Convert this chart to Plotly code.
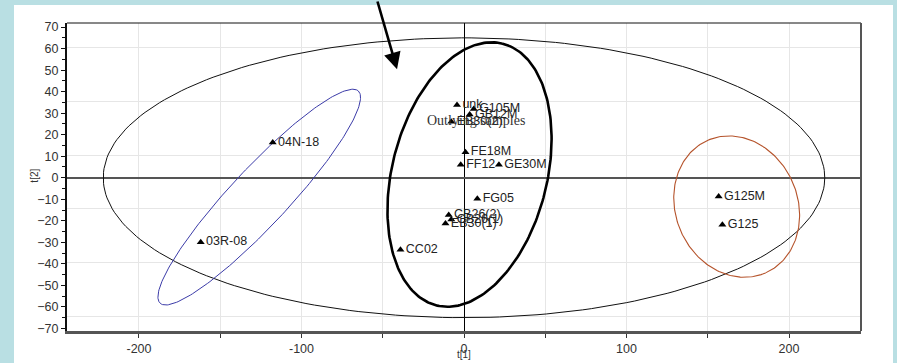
import numpy as np
import plotly.graph_objects as go

# PCA score values t[1], t[2] per sample
sample_names = ["04N-18", "03R-08", "unk", "G105M", "GB12M", "EB30(2)", "FE18M", "FF12",
                "GE30M", "FG05", "CB26(2)", "CB26(1)", "EB30(1)", "CC02", "G125M", "G125"]
t1_scores = [-117.7, -162.0, -4.3, 6.0, 3.5, -7.8, 0.9, -2.0,
             21.5, 8.2, -9.4, -7.8, -11.4, -39.1, 156.7, 159.0]
t2_scores = [16.4, -30.0, 33.8, 32.0, 29.4, 26.0, 11.9, 6.0,
             6.0, -9.8, -17.3, -19.4, -21.2, -33.4, -8.7, -21.8]

x_tick_vals = [-200, -150, -100, -50, 0, 50, 100, 150, 200]
x_tick_text = ["-200", "", "-100", "", "0", "", "100", "", "200"]

# Ellipses: centre, first half-axis vector, second half-axis vector (data units)
hotelling = dict(c=(0.0, 0.0), u=(222.0, 0.0), v=(0.0, 65.0), color="#111111", width=1)
group_left = dict(c=(-126.0, -9.0), u=(61.0, 49.3), v=(12.9, -9.1), color="#3b3ba8", width=1)
group_mid = dict(c=(3.4, 1.5), u=(20.4, 60.8), v=(46.2, -8.8), color="#000000", width=2.6)
group_right = dict(c=(167.8, -13.4), u=(17.8, -30.8), v=(34.4, 11.4), color="#b5532b", width=1.1)

fig = go.Figure()

theta = np.linspace(0, 2 * np.pi, 240)
for e in (hotelling, group_left, group_mid, group_right):
    ex = e["c"][0] + e["u"][0] * np.cos(theta) + e["v"][0] * np.sin(theta)
    ey = e["c"][1] + e["u"][1] * np.cos(theta) + e["v"][1] * np.sin(theta)
    fig.add_trace(go.Scatter(x=ex, y=ey, mode="lines", hoverinfo="skip",
                             line=dict(color=e["color"], width=e["width"]),
                             showlegend=False))

fig.add_trace(go.Scatter(
    x=t1_scores, y=t2_scores, mode="markers+text", text=sample_names,
    textposition="middle right",
    textfont=dict(family="Liberation Sans, Arial, sans-serif", size=12.5, color="#222222"),
    marker=dict(symbol="triangle-up", size=7, color="#000000"),
    showlegend=False,
))

# invisible trace on the overlay axis that carries the horizontal grid
fig.add_trace(go.Scatter(x=[0], y=[0], yaxis="y2", mode="markers",
                         marker=dict(opacity=0), hoverinfo="skip", showlegend=False))

y_range = [-71.2, 71.9]

fig.update_layout(
    width=897, height=363,
    margin=dict(l=67, r=36, t=23, b=32, autoexpand=False),
    paper_bgcolor="#b9dfe3",
    plot_bgcolor="rgba(0,0,0,0)",
    font=dict(family="Liberation Sans, Arial, sans-serif", size=12, color="#333333"),
    xaxis=dict(
        range=[-244.3, 244.3], tickvals=x_tick_vals, ticktext=x_tick_text,
        automargin=False,
        showgrid=True, gridcolor="#e6e6e6", gridwidth=1,
        zeroline=True, zerolinecolor="#000000", zerolinewidth=1,
        showline=True, linecolor="#555555", linewidth=2.5,
        ticks="outside", ticklen=4, tickcolor="#333333",
        tickfont=dict(size=12.5, color="#333333"),
    ),
    yaxis=dict(
        range=y_range, dtick=10, tick0=0,
        automargin=False,
        showgrid=False,
        zeroline=True, zerolinecolor="#555555", zerolinewidth=1.6,
        showline=True, linecolor="#111111", linewidth=2,
        ticks="outside", ticklen=4, tickcolor="#111111",
        minor=dict(dtick=5, ticks="outside", ticklen=3, tickcolor="#111111"),
        tickfont=dict(size=12.5, color="#333333"),
    ),
    yaxis2=dict(
        range=y_range, overlaying="y", tick0=10.5, dtick=25,
        automargin=False,
        showgrid=True, gridcolor="#e6e6e6", gridwidth=1,
        showticklabels=False, zeroline=False, showline=False, ticks="",
    ),
    shapes=[
        # white panel behind the plot
        dict(type="rect", xref="paper", yref="paper", layer="below",
             x0=(14 - 67) / 794, x1=(893 - 67) / 794, y0=-0.2, y1=(331 - 5) / 308,
             fillcolor="#ffffff", line=dict(width=0)),
        # top and right frame lines
        dict(type="line", xref="paper", yref="paper", x0=0, x1=1, y0=1, y1=1,
             line=dict(color="#111111", width=1)),
        dict(type="line", xref="paper", yref="paper", x0=1, x1=1, y0=0, y1=1,
             line=dict(color="#555555", width=2)),
    ],
    annotations=[
        dict(x=-41.2, y=50.4, xref="x", yref="y", ax=-20, ay=-70,
             showarrow=True, arrowhead=2, arrowsize=1.3, arrowwidth=2.6,
             arrowcolor="#000000", standoff=0, text=""),
        dict(x=7.2, y=26.4, xref="x", yref="y", text="Outlying samples", showarrow=False,
             font=dict(family="Liberation Serif, Times New Roman, serif", size=14, color="#333333")),
        dict(x=0.5, y=-0.076, xref="paper", yref="paper", text="t[1]", showarrow=False,
             yanchor="middle", font=dict(size=10, color="#333333")),
        dict(x=-0.0504, y=0.506, xref="paper", yref="paper", text="t[2]", showarrow=False,
             textangle=-90, font=dict(size=10, color="#333333")),
    ],
)

fig.write_html("out.html")
